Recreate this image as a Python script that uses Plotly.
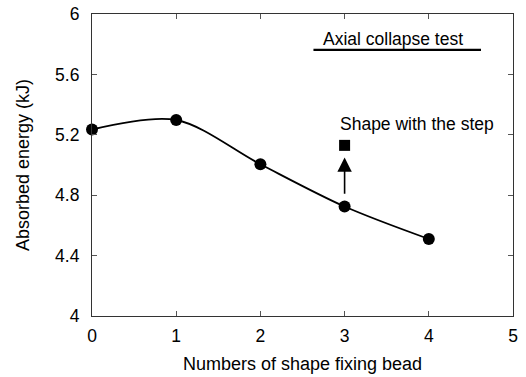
import plotly.graph_objects as go

# Absorbed energy versus number of shape fixing beads
beads = [0, 1, 2, 3, 4]
energy_kj = [5.235, 5.298, 5.005, 4.725, 4.51]

# Stepped shape result (three beads)
step_beads = [3]
step_energy_kj = [5.13]

x_ticks = [0, 1, 2, 3, 4, 5]
y_ticks = [4, 4.4, 4.8, 5.2, 5.6, 6]
y_tick_labels = ["4", "4.4", "4.8", "5.2", "5.6", "6"]

FONT = "Liberation Sans, Arial, sans-serif"

fig = go.Figure()

fig.add_trace(go.Scatter(
    x=beads, y=energy_kj,
    mode="lines+markers",
    line=dict(color="black", width=1.8, shape="spline", smoothing=0.9),
    marker=dict(symbol="circle", size=12, color="black"),
    showlegend=False,
    cliponaxis=False,
))

fig.add_trace(go.Scatter(
    x=step_beads, y=step_energy_kj,
    mode="markers",
    marker=dict(symbol="square", size=11, color="black"),
    showlegend=False,
))

# Arrow pointing from the plain shape to the stepped shape
arrow_x = 3
arrow_tail_y = 4.80
arrow_tip_y = 5.05
fig.add_annotation(
    x=arrow_x, y=arrow_tip_y, ax=arrow_x, ay=arrow_tail_y,
    xref="x", yref="y", axref="x", ayref="y",
    showarrow=True, arrowhead=2, arrowsize=1.8, arrowwidth=1.6,
    arrowcolor="black", text="",
)

fig.add_annotation(
    x=2.92, y=5.27, xref="x", yref="y",
    text="Shape with the step", showarrow=False,
    xanchor="left", yanchor="middle",
    font=dict(family=FONT, size=17.5, color="black"),
)

# Underlined caption
fig.add_annotation(
    x=2.72, y=5.834, xref="x", yref="y",
    text="Axial collapse test", showarrow=False,
    xanchor="left", yanchor="middle",
    font=dict(family=FONT, size=17.5, color="black"),
)
fig.add_shape(
    type="line", x0=2.63, x1=4.62, y0=5.763, y1=5.763,
    xref="x", yref="y", line=dict(color="black", width=2.2),
)

axis_common = dict(
    showgrid=False, zeroline=False, automargin=False,
    showline=True, linecolor="#333333", linewidth=1.2, mirror="ticks",
    ticks="inside", ticklen=5, tickwidth=1.2, tickcolor="#555555",
    tickfont=dict(family=FONT, size=17.5, color="black"),
)

fig.update_xaxes(
    range=[0, 5], tickvals=x_ticks, ticktext=[str(v) for v in x_ticks],
    ticklabelstandoff=4,
    title=dict(text="Numbers of shape fixing bead", standoff=12,
               font=dict(family=FONT, size=18, color="black")),
    **axis_common,
)
fig.update_yaxes(
    range=[4, 6], tickvals=y_ticks, ticktext=y_tick_labels,
    ticklabelstandoff=8,
    title=dict(text="Absorbed energy (kJ)", standoff=20,
               font=dict(family=FONT, size=18, color="black")),
    **axis_common,
)

fig.update_layout(
    width=526, height=377,
    margin=dict(l=92, r=13, t=14, b=61),
    paper_bgcolor="white", plot_bgcolor="white",
    font=dict(family=FONT, color="black"),
)

fig.write_html("out.html")
